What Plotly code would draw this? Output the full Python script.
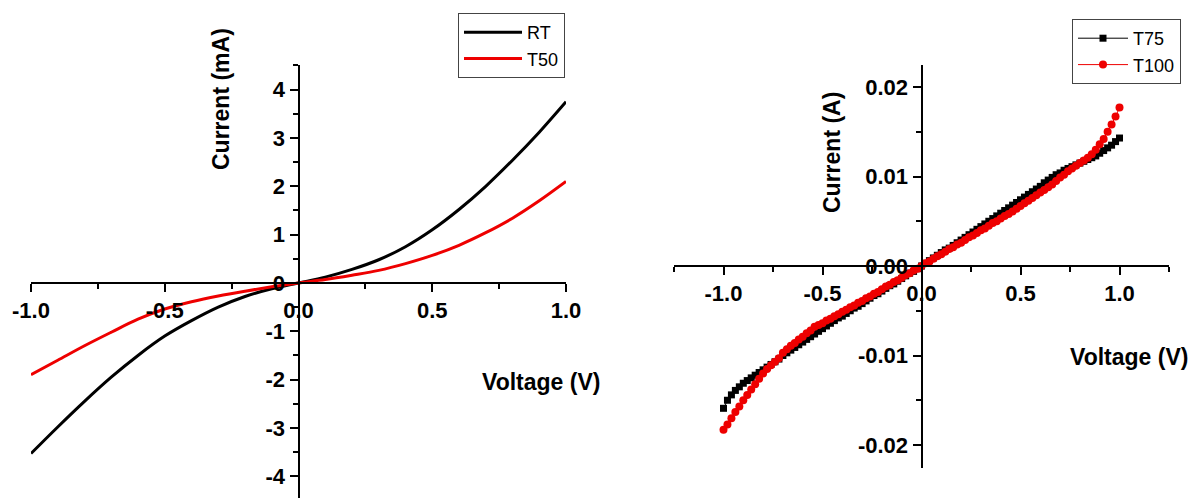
import plotly.graph_objects as go

# ---------------- data: left panel (mA) ----------------
v_left = [-1.0, -0.9, -0.8, -0.7, -0.6, -0.5, -0.4, -0.3, -0.2, -0.1, 0.0,
          0.1, 0.2, 0.3, 0.4, 0.5, 0.6, 0.7, 0.8, 0.9, 1.0]
i_rt = [-3.53, -2.98, -2.45, -1.95, -1.50, -1.10, -0.78, -0.50, -0.28, -0.12, 0.0,
        0.12, 0.28, 0.48, 0.75, 1.10, 1.52, 2.00, 2.54, 3.12, 3.75]
i_t50 = [-1.90, -1.60, -1.30, -1.02, -0.75, -0.54, -0.39, -0.27, -0.17, -0.08, 0.0,
         0.07, 0.16, 0.26, 0.40, 0.57, 0.78, 1.04, 1.34, 1.70, 2.10]

# ---------------- data: right panel (A) ----------------
v_right = [round(-1.0 + 0.02 * k, 2) for k in range(101)]
i_t75 = [-0.0159, -0.0150, -0.0144, -0.0139, -0.0135, -0.0131, -0.0128, -0.0125, -0.0122, -0.0119,
         -0.0116, -0.0113, -0.0110, -0.0107, -0.0104, -0.0100, -0.0097, -0.0094, -0.0091, -0.0088,
         -0.0085, -0.0082, -0.0079, -0.0076, -0.0073, -0.0070, -0.0067, -0.0064, -0.0061, -0.0058,
         -0.0056, -0.0053, -0.0050, -0.0047, -0.0045, -0.0042, -0.0039, -0.0036, -0.0033, -0.0031,
         -0.0028, -0.0025, -0.0022, -0.0020, -0.0017, -0.0014, -0.0011, -0.0008, -0.0006, -0.0003,
         0.0,
         0.0003, 0.0006, 0.0009, 0.0012, 0.0015, 0.0018, 0.0020, 0.0023, 0.0026, 0.0029,
         0.0032, 0.0035, 0.0038, 0.0041, 0.0044, 0.0047, 0.0050, 0.0053, 0.0056, 0.0059,
         0.0062, 0.0065, 0.0068, 0.0071, 0.0074, 0.0077, 0.0080, 0.0083, 0.0086, 0.0089,
         0.0093, 0.0096, 0.0099, 0.0102, 0.0104, 0.0107, 0.0109, 0.0111, 0.0113, 0.0115,
         0.0117, 0.0119, 0.0121, 0.0123, 0.0126, 0.0129, 0.0132, 0.0135, 0.0139, 0.0143]
i_t100 = [-0.0183, -0.0177, -0.0170, -0.0163, -0.0157, -0.0150, -0.0144, -0.0138, -0.0132, -0.0126,
          -0.0120, -0.0115, -0.0111, -0.0107, -0.0103, -0.0097, -0.0093, -0.0089, -0.0086, -0.0082,
          -0.0079, -0.0075, -0.0072, -0.0068, -0.0066, -0.0064, -0.0061, -0.0059, -0.0056, -0.0054,
          -0.0051, -0.0049, -0.0046, -0.0044, -0.0041, -0.0039, -0.0036, -0.0034, -0.0031, -0.0029,
          -0.0026, -0.0023, -0.0021, -0.0018, -0.0016, -0.0013, -0.0010, -0.0008, -0.0005, -0.0003,
          0.0,
          0.0003, 0.0005, 0.0008, 0.0011, 0.0013, 0.0016, 0.0019, 0.0021, 0.0024, 0.0026,
          0.0029, 0.0032, 0.0034, 0.0037, 0.0040, 0.0042, 0.0045, 0.0048, 0.0050, 0.0053,
          0.0056, 0.0058, 0.0061, 0.0064, 0.0067, 0.0070, 0.0073, 0.0076, 0.0079, 0.0082,
          0.0085, 0.0088, 0.0091, 0.0095, 0.0099, 0.0102, 0.0106, 0.0109, 0.0112, 0.0115,
          0.0118, 0.0121, 0.0125, 0.0130, 0.0136, 0.0142, 0.0150, 0.0158, 0.0167, 0.0177]

left_xticks = [-1.0, -0.5, 0.0, 0.5, 1.0]
left_xticktext = ["-1.0", "-0.5", "0.0", "0.5", "1.0"]
left_yticks = [-4, -3, -2, -1, 0, 1, 2, 3, 4]
left_yticktext = ["-4", "-3", "-2", "-1", "0", "1", "2", "3", "4"]
right_xticks = [-1.0, -0.5, 0.0, 0.5, 1.0]
right_xticktext = ["-1.0", "-0.5", "0.0", "0.5", "1.0"]
right_yticks = [-0.02, -0.01, 0.0, 0.01, 0.02]
right_yticktext = ["-0.02", "-0.01", "0.00", "0.01", "0.02"]

# ---------------- layout geometry ----------------
W, H = 1188, 498
FONT = "Liberation Sans, Arial, sans-serif"
RED = "#ee0000"

def px_x(p):
    return p / W

def px_y(p):
    return 1 - p / H

fig = go.Figure()

fig.add_trace(go.Scatter(x=v_left, y=i_rt, mode="lines", name="RT",
                         line=dict(color="black", width=3, shape="spline", smoothing=1.0),
                         xaxis="x", yaxis="y", legend="legend"))
fig.add_trace(go.Scatter(x=v_left, y=i_t50, mode="lines", name="T50",
                         line=dict(color=RED, width=3, shape="spline", smoothing=1.0),
                         xaxis="x", yaxis="y", legend="legend"))
fig.add_trace(go.Scatter(x=v_right, y=i_t75, mode="lines+markers", name="T75",
                         line=dict(color="black", width=1), marker=dict(symbol="square", size=7, color="black"),
                         xaxis="x2", yaxis="y2", legend="legend2"))
fig.add_trace(go.Scatter(x=v_right, y=i_t100, mode="lines+markers", name="T100",
                         line=dict(color=RED, width=1), marker=dict(symbol="circle", size=8, color=RED),
                         xaxis="x2", yaxis="y2", legend="legend2"))

tickfont = dict(family=FONT, size=22, color="black", weight="bold")
axis_common = dict(showgrid=False, zeroline=False, showline=True, linecolor="black", linewidth=2,
                   ticks="outside", ticklen=8, tickwidth=1.5, tickcolor="black", tickfont=tickfont,
                   automargin=False)
minor_common = dict(ticks="outside", tick0=0, ticklen=5, tickwidth=1.5, tickcolor="black")

# left panel
ly_range = [-4.45, 4.51]
ly_dom = [0.0, px_y(65)]
lx_dom = [px_x(31), px_x(566)]
lx_range = [-1.0, 1.0]
x_pos_left = ly_dom[0] + (0 - ly_range[0]) / (ly_range[1] - ly_range[0]) * (ly_dom[1] - ly_dom[0])
y_pos_left = lx_dom[0] + (0 - lx_range[0]) / (lx_range[1] - lx_range[0]) * (lx_dom[1] - lx_dom[0])

# right panel
ry_range = [-0.02257, 0.02246]
ry_dom = [px_y(468), px_y(65)]
rx_dom = [px_x(674), px_x(1169)]
rx_range = [-1.25, 1.25]
x_pos_right = ry_dom[0] + (0 - ry_range[0]) / (ry_range[1] - ry_range[0]) * (ry_dom[1] - ry_dom[0])
y_pos_right = rx_dom[0] + (0 - rx_range[0]) / (rx_range[1] - rx_range[0]) * (rx_dom[1] - rx_dom[0])

legend_font = dict(family=FONT, size=18, color="black")

fig.update_layout(
    width=W, height=H,
    margin=dict(l=0, r=0, t=0, b=0, autoexpand=False),
    paper_bgcolor="white", plot_bgcolor="white",
    font=dict(family=FONT, color="black"),
    xaxis=dict(domain=lx_dom, range=lx_range, anchor="free", position=x_pos_left,
               tickvals=left_xticks, ticktext=left_xticktext,
               minor=dict(dtick=0.25, **minor_common), **axis_common),
    yaxis=dict(domain=ly_dom, range=ly_range, anchor="free", position=y_pos_left,
               tickvals=left_yticks, ticktext=left_yticktext,
               minor=dict(dtick=0.5, **minor_common), **axis_common),
    xaxis2=dict(domain=rx_dom, range=rx_range, anchor="free", position=x_pos_right,
                tickvals=right_xticks, ticktext=right_xticktext,
                minor=dict(dtick=0.25, **minor_common), **axis_common),
    yaxis2=dict(domain=ry_dom, range=ry_range, anchor="free", position=y_pos_right,
                tickvals=right_yticks, ticktext=right_yticktext,
                minor=dict(dtick=0.005, **minor_common), **axis_common),
    legend=dict(x=px_x(458), y=px_y(13), xanchor="left", yanchor="top",
                bordercolor="#444", borderwidth=1, bgcolor="white",
                font=legend_font, itemwidth=58, tracegroupgap=0),
    legend2=dict(x=px_x(1072), y=px_y(19), xanchor="left", yanchor="top",
                 bordercolor="#444", borderwidth=1, bgcolor="white",
                 font=legend_font, itemwidth=50, tracegroupgap=0),
    showlegend=True,
)

title_font = dict(family=FONT, size=23, color="black", weight="bold")
annotations = [
    dict(text="Current (mA)", x=px_x(221), y=px_y(99), textangle=-90),
    dict(text="Voltage (V)", x=px_x(541), y=px_y(382), textangle=0),
    dict(text="Current (A)", x=px_x(832), y=px_y(153), textangle=-90),
    dict(text="Voltage (V)", x=px_x(1129), y=px_y(357), textangle=0),
]
for a in annotations:
    fig.add_annotation(xref="paper", yref="paper", xanchor="center", yanchor="middle",
                       showarrow=False, font=title_font, **a)

fig.write_html("out.html",
               config={"displayModeBar": False},
               post_script="document.body.style.margin='0';document.body.style.padding='0';document.body.style.overflow='hidden';")
